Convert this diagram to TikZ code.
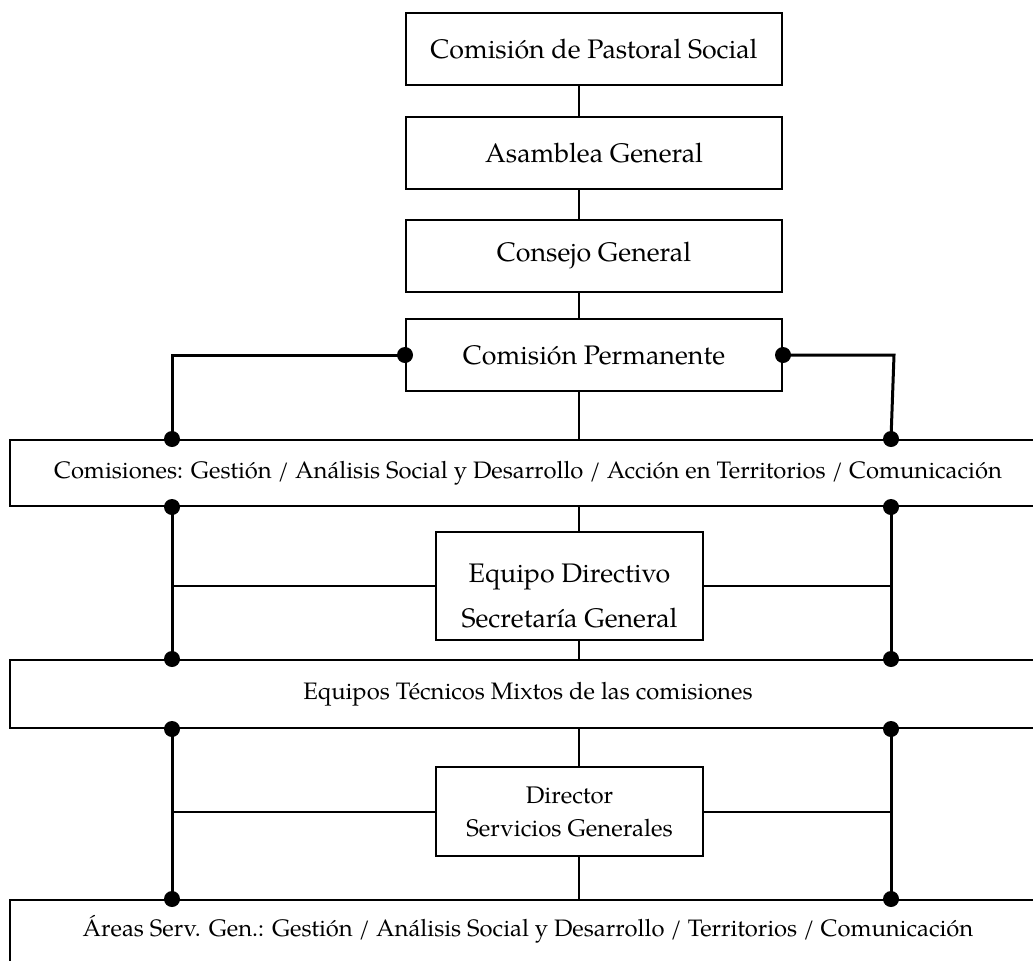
\documentclass[tikz,border=0pt]{standalone}
\usepackage{fontspec}
\setmainfont{texgyrepagella-regular.otf}
\usetikzlibrary{positioning}

\begin{document}
\begin{tikzpicture}[
	x=0.5pt, y=-0.5pt,
	box/.style={draw, line width=1pt, minimum width=188pt, minimum height=36pt, font=\fontsize{13.4}{22.5}\selectfont},
	subbox/.style={draw, line width=1pt, minimum width=133.5pt, align=center},
	band/.style={draw, line width=1pt, minimum width=518pt, font=\fontsize{11.9}{14}\selectfont},
	link/.style={line width=1pt},
	bus/.style={line width=1.5pt},
	font=\fontsize{13.4}{16}\selectfont
	]
	
	\useasboundingbox (0,0) rectangle (1033,960);
	
	\coordinate (spine) at (579,0);
	\coordinate (lbus) at (172,0);
	\coordinate (rbus) at (891,0);
	
	\node[box] (pastoral) at (594,49) {Comisión de Pastoral Social};
	\node[box] (asamblea) at (594,153) {Asamblea General};
	\node[box] (consejo) at (594,256) {Consejo General};
	\node[box] (permanente) at (594,355) {Comisión Permanente};
	
	\node[band, minimum height=33pt] (comisiones) at (528,473) {Comisiones: Gestión / Análisis Social y Desarrollo / Acción en Territorios / Comunicación};
	
	\node[subbox, minimum height=54pt, font=\fontsize{13.4}{22.5}\selectfont] (directivo) at (569.5,586) {\rule{0pt}{19pt}Equipo Directivo\\Secretaría General};
	
	\node[band, minimum height=34pt] (equipos) at (528,694) {Equipos Técnicos Mixtos de las comisiones};
	
	\node[subbox, minimum height=44.5pt, font=\fontsize{12}{16.5}\selectfont] (director) at (569.5,811.5) {Director\\Servicios Generales};
	
	\node[band, minimum height=35pt] (areas) at (528,935) {};
	\node (areastxt) at (528,929) [font=\fontsize{11.9}{14}\selectfont] {Áreas Serv. Gen.: Gestión / Análisis Social y Desarrollo / Territorios / Comunicación};
	
	\draw[link] (pastoral.south -| spine) -- (asamblea.north -| spine);
	\draw[link] (asamblea.south -| spine) -- (consejo.north -| spine);
	\draw[link] (consejo.south -| spine) -- (permanente.north -| spine);
	\draw[link] (permanente.south -| spine) -- (comisiones.north -| spine);
	\draw[link] (comisiones.south -| spine) -- (directivo.north -| spine);
	\draw[link] (directivo.south -| spine) -- (equipos.north -| spine);
	\draw[link] (equipos.south -| spine) -- (director.north -| spine);
	\draw[link] (director.south -| spine) -- (areas.north -| spine);
	
	\draw[bus] (permanente.west) -| (comisiones.north -| lbus);
	\draw[bus] (permanente.east) -- (894,355) -- (comisiones.north -| rbus);
	
	\draw[bus] (comisiones.south -| lbus) -- (equipos.north -| lbus);
	\draw[bus] (comisiones.south -| rbus) -- (equipos.north -| rbus);
	\draw[link] (directivo.west) -- (directivo.west -| lbus);
	\draw[link] (directivo.east) -- (directivo.east -| rbus);
	
	\draw[bus] (equipos.south -| lbus) -- (areas.north -| lbus);
	\draw[bus] (equipos.south -| rbus) -- (areas.north -| rbus);
	\draw[link] (director.west) -- (director.west -| lbus);
	\draw[link] (director.east) -- (director.east -| rbus);
	
	\foreach \p in {permanente.west, permanente.east,
		comisiones.north -| lbus, comisiones.north -| rbus,
		comisiones.south -| lbus, comisiones.south -| rbus,
		equipos.north -| lbus, equipos.north -| rbus,
		equipos.south -| lbus, equipos.south -| rbus,
		areas.north -| lbus, areas.north -| rbus}
		\fill (\p) circle (4pt);
	
\end{tikzpicture}
\end{document}
